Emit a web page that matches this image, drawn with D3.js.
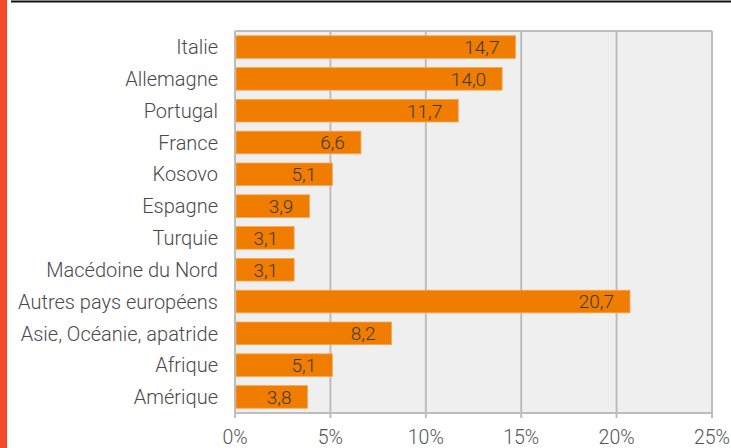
<!DOCTYPE html>
<html><head><meta charset="utf-8">
<script src="https://cdn.jsdelivr.net/npm/d3@7"></script>
<style>body{margin:0;background:#fff;} svg{display:block;font-family:Roboto,sans-serif;}</style>
</head><body>
<script>
const categories = ["Italie","Allemagne","Portugal","France","Kosovo","Espagne","Turquie","Macédoine du Nord","Autres pays européens","Asie, Océanie, apatride","Afrique","Amérique"];
const values = [14.7,14.0,11.7,6.6,5.1,3.9,3.1,3.1,20.7,8.2,5.1,3.8];
const ticks = [0,5,10,15,20,25];

const W=731,H=448;
const svg=d3.select("body").append("svg").attr("width",W).attr("height",H);
svg.append("rect").attr("x",0).attr("y",0).attr("width",7).attr("height",H).attr("fill","#f4492b");
svg.append("line").attr("x1",11).attr("x2",W).attr("y1",1.5).attr("y2",1.5).attr("stroke","#111").attr("stroke-width",2);

const L=235,R=712,T=31,B=413;
const x=d3.scaleLinear().domain([0,25]).range([L,R]);
const y=d3.scaleBand().domain(categories).range([T,B]).paddingInner(0.29).paddingOuter(0.15);

svg.append("rect").attr("x",L).attr("y",T).attr("width",R-L).attr("height",B-T).attr("fill","#efefef");
svg.append("g").selectAll("line").data(ticks).join("line")
  .attr("x1",d=>x(d)).attr("x2",d=>x(d)).attr("y1",T).attr("y2",B+5)
  .attr("stroke","#bdbdbd").attr("stroke-width",2);
svg.append("line").attr("x1",L).attr("x2",R).attr("y1",T).attr("y2",T).attr("stroke","#bdbdbd").attr("stroke-width",2);
svg.append("line").attr("x1",L).attr("x2",R).attr("y1",B).attr("y2",B).attr("stroke","#bdbdbd").attr("stroke-width",2);

const data=categories.map((c,i)=>({c,v:values[i]}));
svg.append("g").selectAll("rect").data(data).join("rect")
  .attr("x",x(0)+1).attr("y",d=>y(d.c)).attr("width",d=>x(d.v)-x(0)-1).attr("height",y.bandwidth())
  .attr("fill","#f07d00").attr("stroke","#f5a650").attr("stroke-width",0.8);
svg.append("g").selectAll("text").data(data).join("text")
  .attr("x",d=>x(d.v)-16).attr("y",d=>y(d.c)+y.bandwidth()/2).attr("dy","0.36em")
  .attr("text-anchor","end").attr("font-size",19).attr("fill","#3a3a3a").attr("font-weight",300)
  .text(d=>d.v.toFixed(1).replace(".",","));
svg.append("g").selectAll("text").data(categories).join("text")
  .attr("x",L-17).attr("y",d=>y(d)+y.bandwidth()/2).attr("dy","0.36em")
  .attr("text-anchor","end").attr("font-size",20).attr("fill","#4a4a4a").attr("font-weight",300)
  .text(d=>d);
svg.append("g").selectAll("text").data(ticks).join("text")
  .attr("x",d=>x(d)).attr("y",437).attr("dy","0.36em")
  .attr("text-anchor","middle").attr("font-size",19.5).attr("fill","#555").attr("font-weight",300)
  .text(d=>d+"%");
</script>
</body></html>
